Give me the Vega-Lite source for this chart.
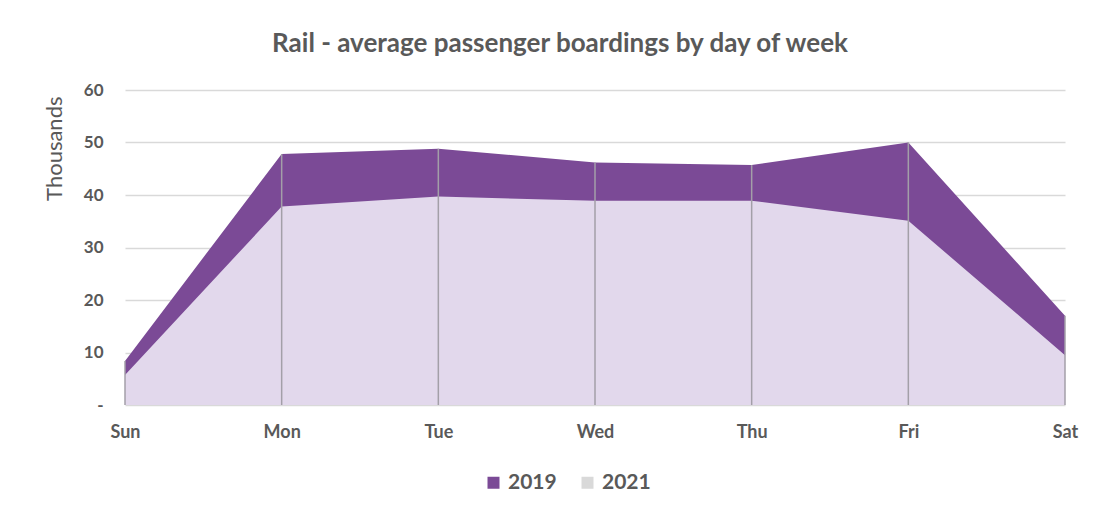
{
  "$schema": "https://vega.github.io/schema/vega-lite/v6.json",
  "autosize": {"type": "none"},
  "width": 940,
  "height": 315,
  "padding": {"left": 125, "top": 90, "right": 36, "bottom": 107},
  "background": "white",
  "config": {
    "font": "Lato",
    "view": {"stroke": null},
    "axis": {"labelFont": "Lato", "titleFont": "Lato", "labelColor": "#595959", "titleColor": "#595959"}
  },
  "title": {
    "text": "Rail - average passenger boardings by day of week",
    "font": "Lato",
    "fontSize": 26,
    "fontWeight": "bold",
    "color": "#595959",
    "anchor": "middle",
    "dx": -35,
    "offset": 24
  },
  "data": {
    "values": [
      {"day": "Sun", "year": "2019", "value": 8.4},
      {"day": "Mon", "year": "2019", "value": 47.8},
      {"day": "Tue", "year": "2019", "value": 48.8},
      {"day": "Wed", "year": "2019", "value": 46.2},
      {"day": "Thu", "year": "2019", "value": 45.7},
      {"day": "Fri", "year": "2019", "value": 50.0},
      {"day": "Sat", "year": "2019", "value": 17.0},
      {"day": "Sun", "year": "2021", "value": 5.7},
      {"day": "Mon", "year": "2021", "value": 37.8},
      {"day": "Tue", "year": "2021", "value": 39.7},
      {"day": "Wed", "year": "2021", "value": 38.9},
      {"day": "Thu", "year": "2021", "value": 38.9},
      {"day": "Fri", "year": "2021", "value": 35.1},
      {"day": "Sat", "year": "2021", "value": 9.5}
    ]
  },
  "layer": [
    {
      "transform": [{"filter": "datum.year === '2019'"}],
      "mark": {"type": "area", "opacity": 1, "interpolate": "linear"},
      "encoding": {
        "x": {
          "field": "day",
          "type": "ordinal",
          "sort": ["Sun", "Mon", "Tue", "Wed", "Thu", "Fri", "Sat"],
          "scale": {"type": "point", "padding": 0},
          "axis": {
            "title": null,
            "labelAngle": 0,
            "labelFontSize": 18,
            "labelFontWeight": "bold",
            "labelPadding": 18,
            "ticks": false,
            "domain": false,
            "grid": false
          }
        },
        "y": {
          "field": "value",
          "type": "quantitative",
          "stack": null,
          "scale": {"domain": [0, 60], "nice": false},
          "axis": {
            "title": "Thousands",
            "titleFontSize": 22,
            "titleFontWeight": "normal",
            "titlePadding": 17,
            "titleAnchor": "end",
            "titleY": 6,
            "values": [0, 10, 20, 30, 40, 50, 60],
            "labelExpr": "datum.value === 0 ? '-' : datum.label",
            "labelFontSize": 17,
            "labelFontWeight": "bold",
            "labelPadding": 22,
            "ticks": false,
            "domain": false,
            "grid": true,
            "gridColor": "#d9d9d9",
            "gridWidth": 1.5
          }
        },
        "color": {
          "field": "year",
          "type": "nominal",
          "scale": {"domain": ["2019", "2021"], "range": ["#7b4a96", "#d9d9d9"]},
          "legend": {
            "title": null,
            "orient": "none",
            "legendX": 358,
            "legendY": 382,
            "direction": "horizontal",
            "symbolType": "square",
            "symbolSize": 144,
            "symbolStrokeWidth": 0,
            "labelFontSize": 21,
            "labelFontWeight": "bold",
            "labelOffset": 4,
            "labelColor": "#595959",
            "labelFont": "Lato",
            "columnPadding": 20
          }
        }
      }
    },
    {
      "transform": [{"filter": "datum.year === '2021'"}],
      "mark": {"type": "area", "opacity": 1, "interpolate": "linear", "color": "#e2d8ec"},
      "encoding": {
        "x": {
          "field": "day",
          "type": "ordinal",
          "sort": ["Sun", "Mon", "Tue", "Wed", "Thu", "Fri", "Sat"]
        },
        "y": {"field": "value", "type": "quantitative", "stack": null}
      }
    },
    {
      "transform": [{"filter": "datum.year === '2019'"}],
      "mark": {"type": "rule", "color": "#a39fa8", "strokeWidth": 1.5},
      "encoding": {
        "x": {
          "field": "day",
          "type": "ordinal",
          "sort": ["Sun", "Mon", "Tue", "Wed", "Thu", "Fri", "Sat"]
        },
        "y": {"field": "value", "type": "quantitative"},
        "y2": {"datum": 0}
      }
    }
  ]
}
